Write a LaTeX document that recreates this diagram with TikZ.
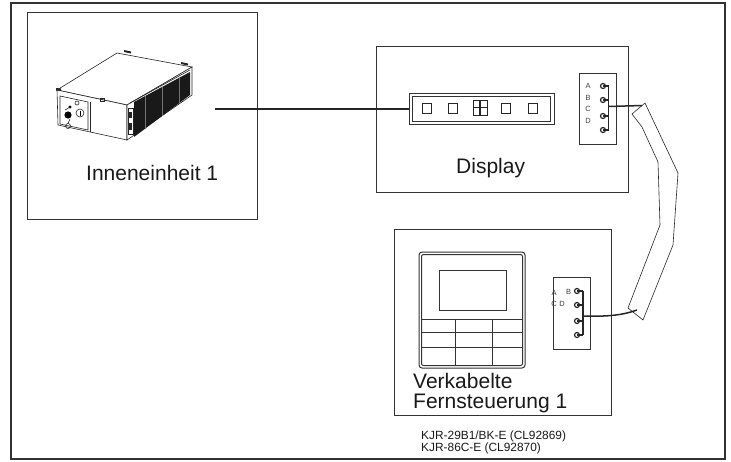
\documentclass[tikz,border=0pt]{standalone}
\usepackage{fontspec}
\setmainfont{Liberation Sans}
\usetikzlibrary{calc}
\begin{document}
\begin{tikzpicture}[x=1pt,y=-1pt,
  frameline/.style={draw=black!80, line width=1.4pt},
  panel/.style={draw=black!80, line width=1pt, inner sep=0pt},
  fine/.style={draw=black!85, line width=0.6pt},
  wire/.style={draw=black!85, line width=2.2pt},
  lead/.style={draw=black!85, line width=1.5pt},
  big/.style={font=\fontsize{21}{20}\selectfont, inner sep=0pt, anchor=base west, text=black!90},
  small/.style={font=\fontsize{11.9}{11}\selectfont, inner sep=0pt, anchor=base west, text=black!90},
  tiny/.style={font=\fontsize{7.5}{7.5}\selectfont, inner sep=0pt, text=black!75},
  termc/.style={circle, draw=black!85, line width=1.2pt, minimum size=5pt, inner sep=0pt},
]
\useasboundingbox (0,0) rectangle (731,461);

% outer frame
\draw[frameline] (11,3) rectangle (725,459);

% ---------------- indoor unit ----------------
\node (iubox) [panel, minimum width=230pt, minimum height=207pt] at (142,115.5) {};
\node (iulbl) [big] at (86,180) {Inneneinheit 1};

% unit body
\draw[fine, fill=white] (57,90) -- (117,53) -- (192,67) -- (127,105) -- cycle;
\draw[fine, fill=white] (57,90) -- (127,105) -- (127,140) -- (58,125) -- cycle;
\draw[fine, fill=white] (127,105) -- (192,67) -- (192,95) -- (127,140) -- cycle;
\draw[fine] (130,103) -- (190,70);
% grille
\fill[black!90] (134,102) -- (190,72) -- (190,95) -- (134,137) -- cycle;
\foreach \t in {0.2,0.5,0.8}
  \draw[black!55, line width=0.2pt] ($(134,102)!\t!(190,72)$) -- ($(134,137)!\t!(190,95)$);
% side connector column
\draw[fine] (128,108) rectangle (133,134);
\fill[black!85] (129,112) rectangle (132,118);
\fill[black!85] (129,123) rectangle (132,130);
% top brackets
\fill[black!85] (124,50) -- (131,51.5) -- (131,53.5) -- (124,52) -- cycle;
\fill[black!85] (181,62) -- (188,63.5) -- (188,65.5) -- (181,64) -- cycle;
\fill[black!85] (56,88) -- (61,88.5) -- (61,91) -- (56,90.5) -- cycle;
% control panel
\draw[fine] (60,96) -- (88,102) -- (88,130) -- (60,124) -- cycle;
\draw[fine] (90,102) -- (90,132);
\draw[fine] (100,98) rectangle (104,101);
\fill[black] (68,115) circle (3.6pt);
\draw[fine] (80,113) circle (4pt);
\draw[line width=1pt] (80,110.5) -- (80,115.5);
\draw[fine] (77,103) circle (2pt);
\fill[black] (70,107) circle (1.6pt);
\draw[fine] (65,110) -- (70,107);
\draw[fine] (68,126) circle (2.5pt);
\draw[fine] (68,123.5) -- (70,119);

% wire from indoor unit to display strip
\coordinate (iuout) at (215,109);

% ---------------- display ----------------
\node (dispbox) [panel, minimum width=252pt, minimum height=146pt] at (502,119) {};
\node (displbl) [big] at (456,173) {Display};

\node (strip) [panel, minimum width=145pt, minimum height=31pt] at (481.5,108.5) {};
\draw[panel] (412.5,96) rectangle (550.5,121);
\foreach \sx/\nm in {427/s1,453/s2,506/s4,533/s5}
  \node (\nm) [draw=black!85, line width=0.9pt, minimum width=9pt, minimum height=10pt, inner sep=0pt] at (\sx,108.5) {};
\draw[draw=black!85, line width=0.9pt] (473,100) rectangle (479.3,115) (480.7,100) rectangle (487,115)
  (473,107.5) -- (479.3,107.5) (480.7,107.5) -- (487,107.5);

\draw[wire] (iuout) -- (strip.west |- iuout);

% display terminal block
\node (tbD) [panel, minimum width=37pt, minimum height=71pt] at (597.5,108.5) {};
\foreach \ty/\lt [count=\i] in {86/A,98/B,109/C,121/D}
  \node[tiny] (tD\lt) at (588,\ty) {\lt};
\foreach \ty [count=\i] in {86,100,116,130} {
  \node (cD\i) [termc] at (603,\ty) {};
  \draw[line width=1.1pt, black!85] (cD\i.center) -- (608.5,\ty);
}
\draw[line width=1.2pt, black!85] (608.5,86) -- (608.5,130);
\coordinate (busD) at (608.5,106.5);

% ---------------- remote controller ----------------
\node (rcbox) [panel, minimum width=217pt, minimum height=186pt] at (502.5,322) {};
\node (rclbl1) [big] at (413,388) {Verkabelte};
\node (rclbl2) [big] at (413,408) {Fernsteuerung 1};

\node (rc) [panel, rounded corners=3pt, minimum width=106pt, minimum height=116pt] at (472,310) {};
\draw[panel, rounded corners=2pt] (421.5,254.5) rectangle (522.5,365.5);
\node (screen) [panel, minimum width=67pt, minimum height=40pt] at (472.5,290) {};
\draw[draw=black!80, line width=0.9pt] (421.5,319) -- (522.5,319) (421.5,332) -- (522.5,332) (421.5,347.5) -- (522.5,347.5)
  (455,319) -- (455,365.5) (492,319) -- (492,365.5);

% remote terminal block
\node (tbR) [panel, minimum width=37pt, minimum height=72pt] at (571.5,313) {};
\node[tiny] (tRA) at (554,293) {A};
\node[tiny] (tRB) at (568.5,292) {B};
\node[tiny] (tRC) at (554,304) {C};
\node[tiny] (tRD) at (562,304) {D};
\foreach \ty [count=\i] in {291,305,321,335} {
  \node (cR\i) [termc] at (577,\ty) {};
  \draw[line width=1.1pt, black!85] (cR\i.center) -- (583,\ty);
}
\draw[line width=1.2pt, black!85] (583,291) -- (583,335);
\coordinate (busR) at (583,316);

% ---------------- cable ----------------
\draw[fine, fill=white] (645,103) -- (632,114) -- (642,127) -- (658,162) -- (660,225)
  -- (628,308) -- (643,320) -- (673,245) -- (678,173) -- cycle;
\coordinate (cabTop) at (642,105.5);
\coordinate (cabBot) at (637,310);
\draw[lead] (busD) -- (cabTop);
\draw[lead] (busR) .. controls (612,317) and (626,314) .. (cabBot);

% model numbers
\node (mod1) [small] at (421,439) {KJR-29B1/BK-E (CL92869)};
\node (mod2) [small] at (421,451) {KJR-86C-E (CL92870)};
\end{tikzpicture}
\end{document}
